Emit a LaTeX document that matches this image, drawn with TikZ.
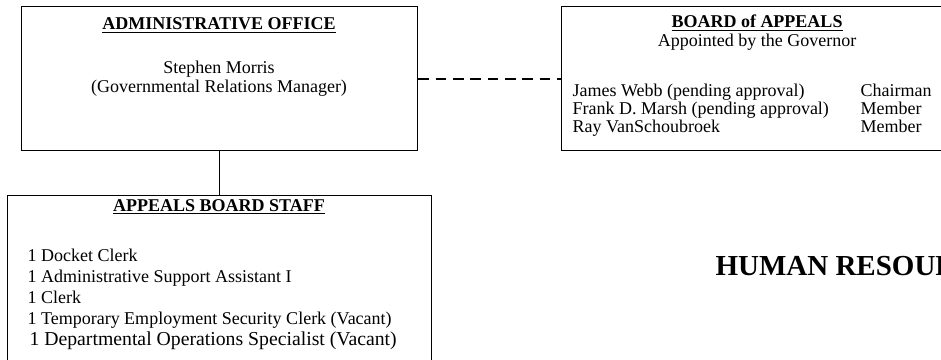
\documentclass[tikz,border=0pt]{standalone}
\usepackage{fontspec}
\setmainfont{Liberation Serif}
\usepackage{tikz}

\begin{document}
\begin{tikzpicture}[x=0.75pt,y=-0.75pt,thick,
  box/.style={draw,line width=1pt,anchor=north west,inner sep=0pt},
  txt/.style={anchor=base,inner sep=0pt,font=\fontsize{13.5}{13.5}\selectfont},
  lst/.style={anchor=base west,inner sep=0pt,font=\fontsize{13.5}{13.5}\selectfont}]
\useasboundingbox (0,0) rectangle (941,360);
\clip (0,0) rectangle (941,360);
\node (admin) at (21,6) [box,minimum width=297pt,minimum height=108pt] {};
\node (board) at (561,6) [box,minimum width=294pt,minimum height=108pt] {};
\node (staff) at (7,195) [box,minimum width=318pt,minimum height=135pt] {};
\draw[line width=1pt] (admin.south) -- (staff.north);
\draw[line width=1.5pt, dash pattern=on 8pt off 5pt] (admin.east) -- (board.west);
\node (admtitle) at (219,30) [txt] {\textbf{\underline{ADMINISTRATIVE OFFICE}}};
\node (admname) at (219,74) [txt] {Stephen Morris};
\node (admrole) at (219,92) [txt] {(Governmental Relations Manager)};
\node (brdtitle) at (757,28) [txt] {\textbf{\underline{BOARD of APPEALS}}};
\node (brdsub) at (757,46) [txt] {Appointed by the Governor};
\foreach \n/\r [count=\i from 0] in {James Webb (pending approval)/Chairman,
    Frank D. Marsh (pending approval)/Member, Ray VanSchoubroek/Member} {
  \node (mem\i) at (572,{96+18*\i}) [lst] {\n};
  \node (pos\i) at (860,{96+18*\i}) [lst] {\r};
}
\node (stftitle) at (219,211) [txt] {\textbf{\underline{APPEALS BOARD STAFF}}};
\foreach \t [count=\i from 0] in {1 Docket Clerk, 1 Administrative Support Assistant I,
    1 Clerk, 1 Temporary Employment Security Clerk (Vacant)} {
  \node (job\i) at (27,{261+21*\i}) [lst] {\t};
}
\node (job4) at (29,345) [lst,font=\fontsize{14.8}{14.8}\selectfont] {1 Departmental Operations Specialist (Vacant)};
\node (hr) at (715,275) [anchor=base west,inner sep=0pt,font=\fontsize{21.75}{21.75}\selectfont\bfseries] {HUMAN RESOUR};
\end{tikzpicture}
\end{document}
